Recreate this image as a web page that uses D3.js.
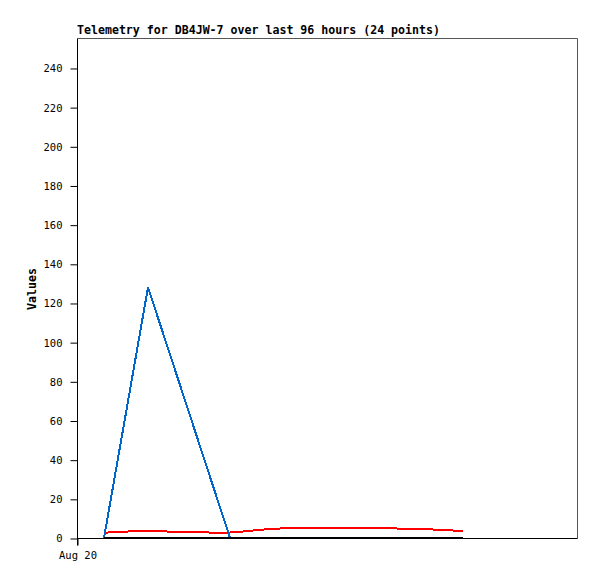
<!DOCTYPE html>
<html><head><meta charset="utf-8">
<script src="https://cdn.jsdelivr.net/npm/d3@7"></script>
<style>body{margin:0;background:#fff}svg{display:block}</style>
</head><body>
<svg id="c" width="597" height="579"></svg>
<script>
const title = "Telemetry for DB4JW-7 over last 96 hours (24 points)";
const yLabel = "Values";
const startTime = "2024-08-20T00:00:00";
const spanHours = 96;
const xTickLabels = ["Aug 20"];
const yTicks = [0,20,40,60,80,100,120,140,160,180,200,220,240];
const times = ["2024-08-20T05:11","2024-08-20T07:06","2024-08-20T09:13","2024-08-20T11:20","2024-08-20T13:38","2024-08-20T17:28","2024-08-20T21:30","2024-08-21T01:20","2024-08-21T05:23","2024-08-21T07:52","2024-08-21T09:59","2024-08-21T14:01","2024-08-21T15:56","2024-08-21T17:52","2024-08-21T21:42","2024-08-22T01:32","2024-08-22T05:23","2024-08-22T09:13","2024-08-22T13:04","2024-08-22T16:54","2024-08-22T19:58","2024-08-22T23:02","2024-08-23T00:35","2024-08-23T02:07"];
const redValues = [2.6,3.1,3.2,3.7,3.7,3.3,3.3,2.8,2.8,3.3,3.9,4.8,4.9,4.9,4.9,4.9,4.9,4.9,4.9,4.4,4.4,3.9,3.8,3.8];
const blueValues = [0,null,null,null,128,null,null,null,0,0,0,0,0,0,0,0,0,0,0,0,0,0,0,0];
const blackValues = [0,0,0,0,0,0,0,0,0,0,0,0,0,0,0,0,0,0,0,0,0,0,0,0];

const svg = d3.select("#c");
const L=77, R=577, T=38, B=538;
const parse = d3.timeParse("%Y-%m-%dT%H:%M");
const t0 = d3.timeParse("%Y-%m-%dT%H:%M:%S")(startTime);
const t1 = d3.timeHour.offset(t0, spanHours);
const x = d3.scaleTime().domain([t0,t1]).range([L,R]);
const y = d3.scaleLinear().domain([0,255.3]).range([B,T]);
const mono = "'DejaVu Sans Mono', 'Liberation Mono', monospace";

// frame
svg.append("path").attr("d",`M${L+0.5},${T+0.5}H${R+0.5}V${B+0.5}`).attr("fill","none").attr("stroke","#555").attr("stroke-width",1);

// y axis
const ya = svg.append("g").attr("transform",`translate(${L+0.5},0.5)`)
  .call(d3.axisLeft(y).tickValues(yTicks).tickSize(7).tickPadding(8));
ya.select(".domain").attr("d",`M0,${T}V${B+7}`).attr("stroke","#000");
ya.selectAll("line").attr("stroke","#000");
ya.selectAll("text").attr("font-family",mono).attr("font-size","10.5px").attr("fill","#000");

// x axis
const xa = svg.append("g").attr("transform",`translate(0.5,${B+0.5})`)
  .call(d3.axisBottom(x).tickValues([t0]).tickFormat((d,i)=>xTickLabels[i]).tickSize(7).tickPadding(6));
xa.select(".domain").attr("d",`M${L},0H${R}`).attr("stroke","#000");
xa.selectAll("line").attr("stroke","#000");
xa.selectAll("text").attr("font-family",mono).attr("font-size","10.5px").attr("fill","#000").attr("dy","0.71em");

const pts = times.map(parse);
const line = d3.line().x(d=>x(d[0])).y(d=>y(d[1]));
function draw(vals,color){
  const data = pts.map((t,i)=>[t,vals[i]]).filter(d=>d[1]!==null);
  svg.append("path").datum(data).attr("d",line).attr("fill","none")
    .attr("stroke",color).attr("stroke-width",2).attr("shape-rendering","crispEdges");
}
draw(redValues,"#ff0000");
draw(blueValues,"#0066cc");
draw(blackValues,"#000000");

svg.append("text").attr("x",L).attr("y",34).attr("font-family",mono).attr("font-weight","bold")
  .attr("font-size","11.6px").text(title);
svg.append("text").attr("transform",`translate(36,289) rotate(-90)`).attr("text-anchor","middle")
  .attr("font-family",mono).attr("font-weight","bold").attr("font-size","11.6px").text(yLabel);
</script>
</body></html>
